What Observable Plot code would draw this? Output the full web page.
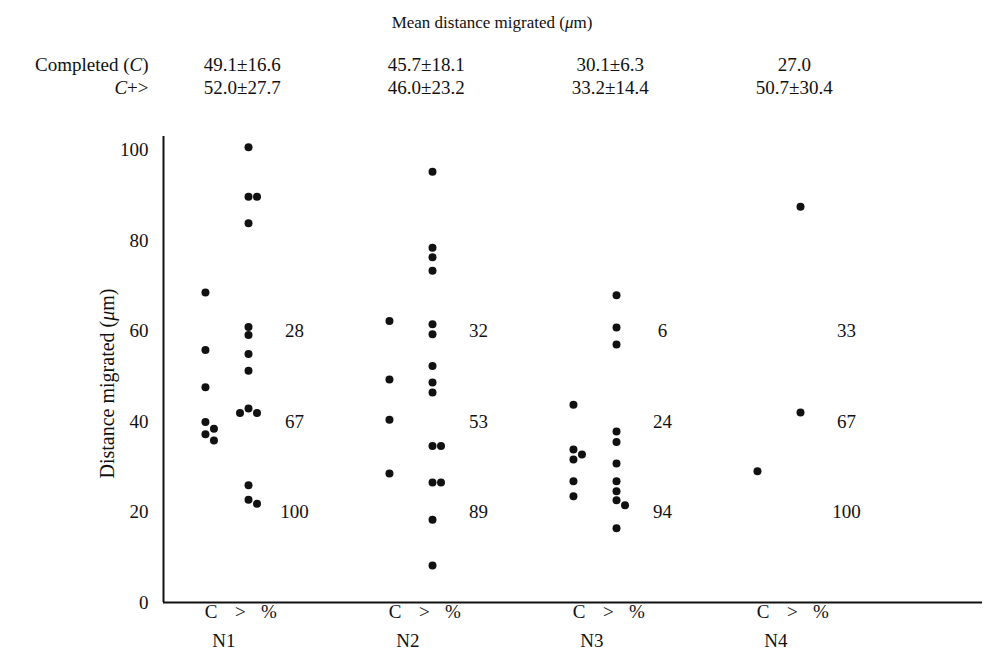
<!DOCTYPE html>
<html><head><meta charset="utf-8">
<script src="https://cdn.jsdelivr.net/npm/d3@7"></script>
<script src="https://cdn.jsdelivr.net/npm/@observablehq/plot@0.6"></script>
<style>
body{margin:0;background:#fff;font-family:"Liberation Serif","Times New Roman",serif;color:#111;}
#title{width:984px;height:44px;line-height:46px;text-align:center;font-size:17px;}
svg{display:block;}
</style></head><body>
<div id="title">Mean distance migrated (<i>μ</i>m)</div>
<div id="chart"></div>
<script>
// ---- data ----
const groups = ["N1", "N2", "N3", "N4"];
const columns = ["C", ">", "%"];
const completedN1 = [68.5, 55.8, 47.6, 39.9, 38.4, 37.2, 35.8];
const beyondN1 = [100.6, 89.7, 89.7, 83.8, 60.9, 59.1, 54.9, 51.2, 42.9, 41.9, 41.9, 25.9, 22.7, 21.8];
const completedN2 = [62.2, 49.3, 40.4, 28.5];
const beyondN2 = [95.2, 78.4, 76.3, 73.3, 61.5, 59.3, 52.3, 48.6, 46.4, 34.6, 34.6, 26.5, 26.5, 18.3, 8.2];
const completedN3 = [43.7, 33.8, 32.7, 31.6, 26.8, 23.5];
const beyondN3 = [67.9, 60.8, 57.0, 37.8, 35.5, 30.7, 26.8, 24.6, 22.6, 21.5, 16.4];
const completedN4 = [29.0];
const beyondN4 = [87.5, 42.0];
const thresholds = [60, 40, 20];
const pctN1 = [28, 67, 100];
const pctN2 = [32, 53, 89];
const pctN3 = [6, 24, 94];
const pctN4 = [33, 67, 100];
const meanCompleted = ["49.1±16.6", "45.7±18.1", "30.1±6.3", "27.0"];
const meanAll = ["52.0±27.7", "46.0±23.2", "33.2±14.4", "50.7±30.4"];
const yTicks = [0, 20, 40, 60, 80, 100];

// ---- layout ----
const W = 984, H = 618;
const mL = 163, mR = 2, mT = 92, mB = 60;
const xDomain = [-0.228, 4.223];
const yDomain = [0, 103];
const colOff = {"C": 0, ">": 0.234, "%": 0.484};     // where the data columns sit
const tickOff = {"C": 0.03, ">": 0.19, "%": 0.345};  // where the column letters sit under the axis
const groupLabelOff = 0.1, meanOff = 0.2;
const pxX = (W - mL - mR) / (xDomain[1] - xDomain[0]);
const pxY = (H - mT - mB) / (yDomain[1] - yDomain[0]);
const R = 4;

const completed = [completedN1, completedN2, completedN3, completedN4];
const beyond = [beyondN1, beyondN2, beyondN3, beyondN4];
const pcts = [pctN1, pctN2, pctN3, pctN4];

// small dodge so coincident dots sit side by side
function dodge(vals) {
  const placed = [], out = new Array(vals.length);
  const order = d3.range(vals.length).sort((a, b) => vals[b] - vals[a]);
  for (const i of order) {
    const y = vals[i] * pxY;
    for (const k of [0, 1, -1, 2, -2, 3, -3]) {
      const x = k * 8.5;
      if (placed.every(p => Math.hypot(p.x - x, p.y - y) >= 2 * R - 1)) {
        placed.push({x, y}); out[i] = x; break;
      }
    }
  }
  return out;
}

const dots = [];
groups.forEach((g, gi) => {
  [["C", completed[gi]], [">", beyond[gi]]].forEach(([col, vals]) => {
    const off = dodge(vals);
    vals.forEach((v, i) => dots.push({group: g, col, value: v, x: gi + colOff[col] + off[i] / pxX}));
  });
});
const pctRows = [];
groups.forEach((g, gi) => thresholds.forEach((t, i) => pctRows.push({x: gi + colOff["%"], y: t, text: String(pcts[gi][i])})));

const tickVals = [], tickLab = new Map();
groups.forEach((g, gi) => columns.forEach(c => { const v = +(gi + tickOff[c]).toFixed(4); tickVals.push(v); tickLab.set(v, c); }));

const FF = "Liberation Serif, Times New Roman, serif";
const font = {fontFamily: FF, fontSize: 19, fill: "#111"};

const plot = Plot.plot({
  width: W, height: H,
  marginLeft: mL, marginRight: mR, marginTop: mT, marginBottom: mB,
  style: {fontFamily: FF, fontSize: "19px", color: "#111", background: "#fff"},
  x: {domain: xDomain, ticks: tickVals, tickFormat: d => tickLab.get(+(+d).toFixed(4)) ?? "", tickSize: 0, tickPadding: 2, label: null},
  y: {domain: yDomain, ticks: yTicks, tickSize: 0, tickPadding: 15, label: null},
  marks: [
    Plot.ruleY([0], {stroke: "#111", strokeWidth: 2}),
    Plot.ruleX([xDomain[0]], {stroke: "#111", strokeWidth: 2}),
    Plot.dot(dots, {x: "x", y: "value", r: R, fill: "#111", stroke: "none"}),
    Plot.text(pctRows, {x: "x", y: "y", text: "text", ...font}),
    Plot.text(groups, {x: (d, i) => i + groupLabelOff, frameAnchor: "bottom", dy: 44, text: d => d, ...font}),
    Plot.text(meanCompleted, {x: (d, i) => i + meanOff, frameAnchor: "top", dy: -79, text: d => d, ...font}),
    Plot.text(meanAll, {x: (d, i) => i + meanOff, frameAnchor: "top", dy: -56, text: d => d, ...font}),
    Plot.text(["Completed (C)"], {frameAnchor: "top-left", textAnchor: "end", dx: -15, dy: -79, text: d => d, ...font}),
    Plot.text(["C+>"], {frameAnchor: "top-left", textAnchor: "end", dx: -15, dy: -56, text: d => d, ...font}),
    Plot.text(["Distance migrated (μm)"], {frameAnchor: "left", textAnchor: "middle", rotate: -90, dx: -56, dy: 14, text: d => d, ...font, fontSize: 20})
  ]
});
document.getElementById("chart").appendChild(plot);

// axis tick labels in the same serif size as the other labels
d3.select(plot).selectAll('g[aria-label*="axis"]').attr("font-size", 19).style("font-size", "19px");
d3.select(plot).selectAll('g[aria-label*="axis"] text').style("font-size", "19px");

// italicise the C and μ symbols as in the original typesetting
d3.select(plot).selectAll("text").each(function () {
  const t = this.textContent;
  const el = d3.select(this);
  const rebuild = parts => {
    el.text(null);
    parts.forEach(([s, it]) => { const ts = el.append("tspan").text(s); if (it) ts.attr("font-style", "italic"); });
  };
  if (t === "Completed (C)") rebuild([["Completed (", false], ["C", true], [")", false]]);
  else if (t === "C+>") rebuild([["C", true], ["+>", false]]);
  else if (t === "Distance migrated (μm)") rebuild([["Distance migrated (", false], ["μ", true], ["m)", false]]);
});
</script>
</body></html>
